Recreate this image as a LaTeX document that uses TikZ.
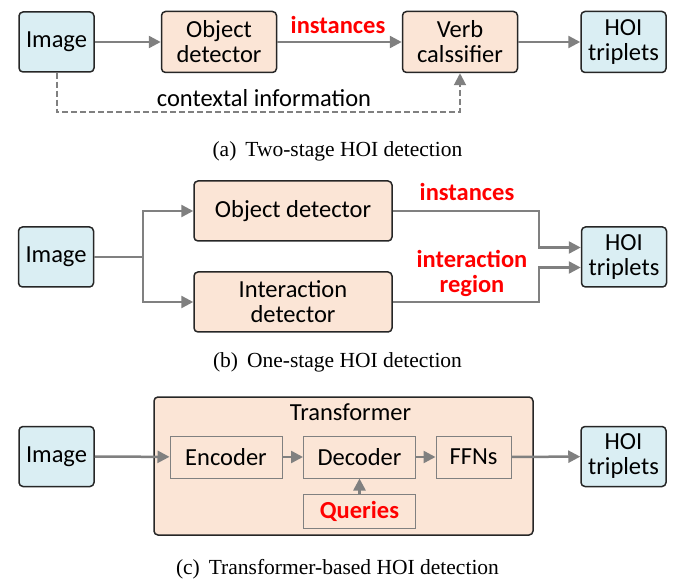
\documentclass[tikz,border=0pt]{standalone}
\usepackage{xcolor}
\usepackage{fontspec}
\setmainfont{Liberation Serif}
\newfontfamily\boxfont{Carlito}
\usetikzlibrary{arrows.meta}

\definecolor{boxblue}{HTML}{DAEEF3}
\definecolor{boxorange}{HTML}{FBE5D6}
\definecolor{linegray}{HTML}{808080}
\definecolor{edgedark}{HTML}{262626}

\newcommand{\boxtext}{\boxfont\fontsize{24.5}{25}\selectfont}

\begin{document}
\begin{tikzpicture}[x=1pt,y=-1pt,
    io/.style={draw=edgedark,line width=1.5pt,rounded corners=4pt,fill=boxblue,inner sep=0pt,align=center,font=\boxtext},
    stage/.style={draw=edgedark,line width=1.5pt,rounded corners=4pt,fill=boxorange,inner sep=0pt,align=center,font=\boxtext},
    inner/.style={draw=linegray,line width=1pt,fill=boxorange,inner sep=0pt,align=center,font=\boxtext},
    flow/.style={draw=linegray,line width=2.5pt},
    tip/.style={-{Triangle[length=12pt,width=12pt]}},
    tag/.style={text=red,align=center,font=\boxtext\bfseries},
    plain/.style={align=center,font=\boxtext},
    caption/.style={font=\fontsize{21.5}{23}\selectfont}]
    \useasboundingbox (0,0) rectangle (675,585);

    % (a) two-stage
    \node[io,minimum width=75pt,minimum height=60pt] (a1) at (56.5,42) {Image};
    \node[stage,minimum width=115pt,minimum height=61pt] (a2) at (219,42) {Object\\detector};
    \node[stage,minimum width=115pt,minimum height=61pt] (a3) at (460,42) {Verb\\calssifier};
    \node[io,minimum width=85pt,minimum height=61pt] (a4) at (623.5,42) {HOI\\triplets};
    \node[tag] (a5) at (338,25) {instances};
    \node[plain] (a6) at (264,98) {contextal information};
    \coordinate (ctx) at (260,112);
    \draw[flow,tip] (a1) -- (a2);
    \draw[flow,tip] (a2) -- (a3);
    \draw[flow,tip] (a3) -- (a4);
    \draw[flow,tip,line width=2pt,dash pattern=on 6pt off 3pt] (a1.south) |- (ctx) -| (a3.south);
    \node[caption] (ca) at (337.5,151) {(a)\, Two-stage HOI detection};

    % (b) one-stage
    \node[io,minimum width=75pt,minimum height=60pt] (b1) at (56,257) {Image};
    \node[stage,minimum width=198pt,minimum height=60pt] (b2) at (293,211) {Object detector};
    \node[stage,minimum width=198pt,minimum height=60pt] (b3) at (293,302) {Interaction\\detector};
    \node[io,minimum width=85pt,minimum height=60pt] (b4) at (624,257) {HOI\\triplets};
    \node[tag] (b5) at (467,192) {instances};
    \node[tag] (b6) at (472,273) {interaction\\region};
    \coordinate (split) at (143,257);
    \coordinate (join1) at (539,247.5);
    \coordinate (join2) at (539,267.5);
    \draw[flow] (b1) -- (split);
    \draw[flow,tip] (split) |- (b2);
    \draw[flow,tip] (split) |- (b3);
    \draw[flow,tip] (b2.east) -| (join1) -- (join1 -| b4.west);
    \draw[flow,tip] (b3.east) -| (join2) -- (join2 -| b4.west);
    \node[caption] (cb) at (337.5,362) {(b)\, One-stage HOI detection};

    % (c) transformer
    \node[stage,minimum width=379pt,minimum height=138pt] (c0) at (343.5,466) {};
    \node[plain] (c6) at (350.5,412) {Transformer};
    \node[io,minimum width=75pt,minimum height=60pt] (c1) at (56.5,456.5) {Image};
    \node[inner,minimum width=112pt,minimum height=42pt] (c2) at (226,457) {Encoder};
    \node[inner,minimum width=112pt,minimum height=42pt] (c3) at (359.5,457) {Decoder};
    \node[inner,minimum width=75pt,minimum height=42pt] (c4) at (473.5,457) {FFNs};
    \node[inner,minimum width=112pt,minimum height=34pt,text=red,font=\boxtext\bfseries] (c5) at (359.5,511) {Queries};
    \node[io,minimum width=85pt,minimum height=60pt] (c7) at (623.5,456.5) {HOI\\triplets};
    \draw[flow,tip] (c1) -- (c2);
    \draw[flow,tip] (c2) -- (c3);
    \draw[flow,tip] (c3) -- (c4);
    \draw[flow,tip] (c4) -- (c7);
    \draw[flow,tip] (c5) -- (c3);
    \node[caption] (cc) at (337.5,569) {(c)\, Transformer-based HOI detection};
\end{tikzpicture}
\end{document}
